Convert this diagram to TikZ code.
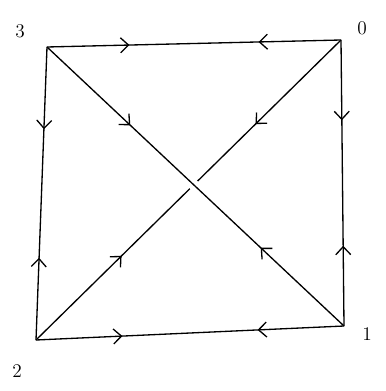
\documentclass[tikz,border=0pt]{standalone}
\usetikzlibrary{arrows.meta,decorations.markings,calc}
\tikzset{vert/.style={inner sep=0pt,minimum size=0pt},lbl/.style={font=\fontsize{11}{12}\selectfont,inner sep=1pt},edge/.style={line width=0.75pt,line cap=round,postaction={decorate},decoration={markings,mark=at position 0.28 with {\arrow{Straight Barb[length=1.6mm,width=3mm]}},mark=at position 0.72 with {\arrowreversed{Straight Barb[length=1.6mm,width=3mm]}}}},gap/.style={draw=white,line width=6pt}}

\begin{document}
\begin{tikzpicture}[x=0.02cm,y=-0.02cm]
\useasboundingbox (0,0) rectangle (385,391);
\node[vert] (v3) at (47,47) {};
\node[vert] (v0) at (341,40) {};
\node[vert] (v1) at (344,326) {};
\node[vert] (v2) at (36,340) {};
\node[lbl] (l3) at (20,31) {3};
\node[lbl] (l0) at (362,28) {0};
\node[lbl] (l1) at (367,334) {1};
\node[lbl] (l2) at (17,371) {2};
\draw[edge](v3)--(v0);\draw[edge](v0)--(v1);\draw[edge](v2)--(v1);\draw[edge](v3)--(v2);
\draw[edge](v0)--(v2);
\draw[gap]($(v3)!0.44!(v1)$)--($(v3)!0.56!(v1)$);
\draw[edge](v3)--(v1);
\end{tikzpicture}
\end{document}
